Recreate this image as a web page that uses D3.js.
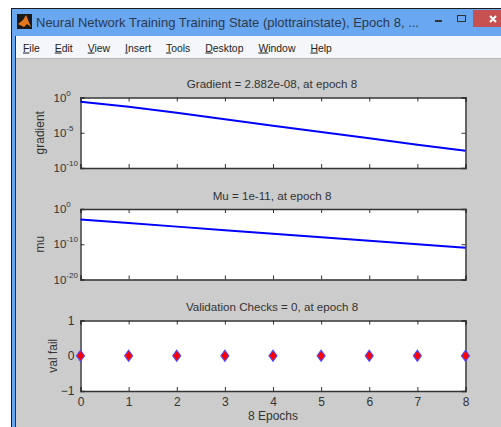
<!DOCTYPE html>
<html>
<head>
<meta charset="utf-8">
<script src="https://cdn.jsdelivr.net/npm/d3@7"></script>
<style>
body { margin: 0; background: #fff; overflow: hidden; }
text { font-family: "Liberation Sans", Arial, sans-serif; fill: #333; }
.tick line, .domain { stroke: #333; }
</style>
</head>
<body>
<svg id="chart" width="501" height="427"></svg>
<script>
var windowTitle = "Neural Network Training Training State (plottrainstate), Epoch 8, ...";
var menuItems = ["File", "Edit", "View", "Insert", "Tools", "Desktop", "Window", "Help"];

var epochs = [0, 1, 2, 3, 4, 5, 6, 7, 8];
var gradientValues = [0.25, 0.05, 7e-3, 8e-4, 1e-4, 1.3e-5, 1.6e-6, 2e-7, 2.882e-8];
var muValues = [1e-3, 1e-4, 1e-5, 1e-6, 1e-7, 1e-8, 1e-9, 1e-10, 1e-11];
var valFailValues = [0, 0, 0, 0, 0, 0, 0, 0, 0];

var gradientTicks = [1, 1e-5, 1e-10];
var muTicks = [1, 1e-10, 1e-20];
var valFailTicks = [-1, 0, 1];

var svg = d3.select("#chart");
var W = 501, H = 427;

// window frame
var chrome = svg.append("g").attr("class", "chrome");
chrome.append("rect").attr("x", 11).attr("y", 8).attr("width", W - 11).attr("height", H - 8).attr("fill", "#1c1c1c");
chrome.append("rect").attr("x", 12).attr("y", 9).attr("width", W - 12).attr("height", H - 9).attr("fill", "#69a7f0");
chrome.append("rect").attr("x", 16).attr("y", 36).attr("width", W - 16).attr("height", H - 36).attr("fill", "#cccccc");
chrome.append("rect").attr("x", 15).attr("y", 36).attr("width", 1).attr("height", H - 36).attr("fill", "#333");
chrome.append("rect").attr("x", 16).attr("y", 36).attr("width", W - 16).attr("height", 22).attr("fill", "#f4f6f9");
chrome.append("rect").attr("x", 16).attr("y", 58).attr("width", W - 16).attr("height", 1).attr("fill", "#b8b8b8");

// matlab icon
chrome.append("rect").attr("x", 17).attr("y", 14).attr("width", 15).attr("height", 15).attr("fill", "#1a1a1a");
chrome.append("path").attr("d", "M18 24 L23 20 L26 15 L31 27 L27 24 L24 27 Z").attr("fill", "#e8761c");

chrome.append("text").attr("x", 36).attr("y", 27).attr("font-size", 13).style("fill", "#2b3a4d").text(windowTitle);

// window buttons
chrome.append("rect").attr("x", 435).attr("y", 20).attr("width", 7).attr("height", 2).attr("fill", "#333");
chrome.append("rect").attr("x", 457.5).attr("y", 15.5).attr("width", 8).attr("height", 6).attr("fill", "none").attr("stroke", "#333");
chrome.append("rect").attr("x", 473).attr("y", 10).attr("width", 28).attr("height", 17).attr("fill", "#c75050");
chrome.append("path").attr("d", "M490 16 L496 22 M496 16 L490 22").attr("stroke", "#fff").attr("stroke-width", 2);

// menu bar, each item follows the one before it
var menuX = 23;
menuItems.forEach(function (m) {
	var t = chrome.append("text").attr("x", menuX).attr("y", 51.5).attr("font-size", 10.4).style("fill", "#222");
	t.append("tspan").style("text-decoration", "underline").text(m.charAt(0));
	t.append("tspan").text(m.slice(1));
	menuX += t.node().getComputedTextLength() + 15;
});

var x = d3.scaleLinear().domain([0, 8]).range([80.5, 465.5]);

// 10^n labels, left aligned like matlab does them
function logLabel(sel) {
	sel.selectAll(".tick text").each(function (d) {
		var t = d3.select(this).text("10").attr("font-size", 11.5)
			.attr("text-anchor", "start").attr("x", -27);
		var exp = Math.round(Math.log10(d));
		t.append("tspan").attr("dy", -6).attr("font-size", 8).text(exp);
	});
}

// frame with ticks on all four sides, like a matlab box axes
function drawFrame(y, yTicks, top, bottom, showX) {
	var left = svg.append("g").attr("transform", "translate(80.5,0)")
		.call(d3.axisLeft(y).tickValues(yTicks).tickSize(-4).tickPadding(6).tickFormat(d3.format("d")));
	var right = svg.append("g").attr("transform", "translate(465.5,0)")
		.call(d3.axisRight(y).tickValues(yTicks).tickSize(-4).tickFormat(""));
	var upper = svg.append("g").attr("transform", "translate(0," + top + ")")
		.call(d3.axisTop(x).tickValues(epochs).tickSize(-4).tickFormat(""));
	var lower = svg.append("g").attr("transform", "translate(0," + bottom + ")")
		.call(d3.axisBottom(x).tickValues(epochs).tickSize(-4).tickPadding(6));
	[left, right, upper, lower].forEach(function (a) {
		a.selectAll(".domain").attr("stroke-width", 1.4);
		a.selectAll(".tick text").style("fill", "#333").attr("font-size", 12).attr("font-family", null);
	});
	if (!showX) lower.selectAll(".tick text").remove();
	return left;
}

function drawPlot(opts) {
	var g = svg.append("g");
	g.append("rect").attr("x", 80.5).attr("y", opts.top).attr("width", 385).attr("height", opts.bottom - opts.top).attr("fill", "#fff");
	g.append("text").attr("x", 272).attr("y", opts.top - 9.5).attr("text-anchor", "middle").attr("font-size", 11.6).text(opts.title);
	g.append("text").attr("transform", "translate(" + opts.labelX + "," + (opts.top + opts.bottom) / 2 + ") rotate(-90)")
		.attr("text-anchor", "middle").attr("font-size", 12).text(opts.label);
}

var top1 = 97.5, bottom1 = 168;
var top2 = 209, bottom2 = 279.5;
var top3 = 320.5, bottom3 = 391;

drawPlot({ top: top1, bottom: bottom1, title: "Gradient = 2.882e-08, at epoch 8", label: "gradient", labelX: 44 });
drawPlot({ top: top2, bottom: bottom2, title: "Mu = 1e-11, at epoch 8", label: "mu", labelX: 44 });
drawPlot({ top: top3, bottom: bottom3, title: "Validation Checks = 0, at epoch 8", label: "val fail", labelX: 57 });

var y1 = d3.scaleLog().domain([1e-10, 1]).range([bottom1, top1]);
var y2 = d3.scaleLog().domain([1e-20, 1]).range([bottom2, top2]);
var y3 = d3.scaleLinear().domain([-1, 1]).range([bottom3, top3]);

logLabel(drawFrame(y1, gradientTicks, top1, bottom1, false));
logLabel(drawFrame(y2, muTicks, top2, bottom2, false));
drawFrame(y3, valFailTicks, top3, bottom3, true);

function drawLine(values, y) {
	svg.append("path")
		.attr("d", d3.line().x(function (d, i) { return x(epochs[i]); }).y(function (d) { return y(d); })(values))
		.attr("fill", "none").attr("stroke", "#0000ff").attr("stroke-width", 2);
}
drawLine(gradientValues, y1);
drawLine(muValues, y2);

svg.selectAll(".marker").data(valFailValues).enter().append("path")
	.attr("class", "marker")
	.attr("transform", function (d, i) { return "translate(" + x(epochs[i]) + "," + y3(d) + ")"; })
	.attr("d", "M0 -5.5 L4 0 L0 5.5 L-4 0 Z")
	.attr("fill", "#ff0000").attr("stroke", "#4a4aff").attr("stroke-width", 1.1);

svg.append("text").attr("x", 273).attr("y", 419.5).attr("text-anchor", "middle").attr("font-size", 12).text("8 Epochs");
</script>
</body>
</html>
